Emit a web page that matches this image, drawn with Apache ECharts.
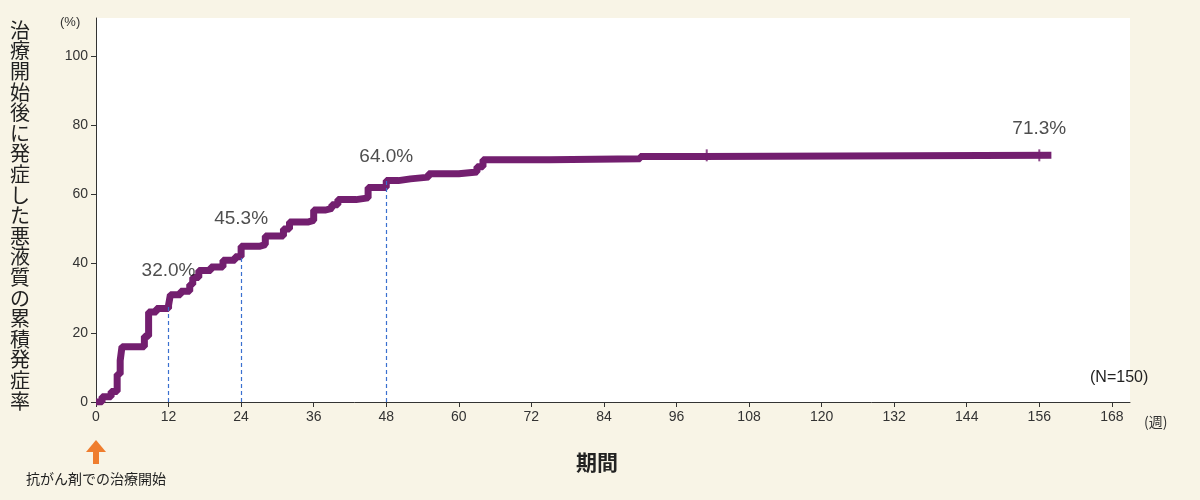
<!DOCTYPE html>
<html>
<head>
<meta charset="utf-8">
<script src="https://cdn.jsdelivr.net/npm/echarts@6/dist/echarts.min.js"></script>
<style>
  html, body { margin: 0; padding: 0; background: #f8f4e6; }
  #chart { width: 1200px; height: 500px; }
</style>
</head>
<body>
<div id="chart"></div>
<script>
// 週, 累積発症率(%)
var weeks = [0, 1, 2.5, 3.5, 4, 4.3, 7, 8, 8.7, 10, 12, 12.3, 14, 15.5, 16, 17, 19, 21, 23, 24, 27, 28, 31, 32, 35, 36, 38, 39, 40, 43, 45, 48, 50, 52, 55, 60, 63, 64, 75, 90, 100, 158];
var rates = [0, 1.5, 3, 8, 12, 16, 16, 19, 26, 27, 28, 31, 32, 34, 36, 38, 39, 41, 42, 45, 45.5, 48, 50, 52, 52.5, 55.5, 56, 57, 58.5, 59, 62, 64, 64.5, 65, 66, 66.5, 68, 70, 70.3, 71, 71.3, 71.3];
var censorWeeks = [101, 156];
var markWeeks = [12, 24, 48];
var markRates = [28, 42, 64];
var labelWeeks = [12, 24, 48, 156];
var labelRates = [32.0, 45.3, 64.0, 71.3];
var labelY = [38, 53, 71, 79];

var myChart = echarts.init(document.getElementById("chart"));
var purple = "#731f6f";

var dashLines = markWeeks.map(function (w, i) {
  return [{ coord: [w, 0] }, { coord: [w, markRates[i]] }];
});

var yTitle = "治療開始後に発症した悪液質の累積発症率".split("").join("\n");

var options = {
  backgroundColor: "#f8f4e6",
  animation: false,
  grid: { left: 96, right: 70, top: 18, bottom: 98, backgroundColor: "#ffffff", show: true, borderWidth: 0 },
  xAxis: {
    type: "value",
    min: 0,
    max: 171,
    interval: 12,
    axisLine: { show: true, lineStyle: { color: "#333" } },
    axisTick: { show: true, length: 5, lineStyle: { color: "#333" } },
    axisLabel: { color: "#333", fontSize: 14, showMaxLabel: false },
    splitLine: { show: false },
  },
  yAxis: {
    type: "value",
    min: 0,
    max: 111,
    interval: 20,
    axisLine: { show: true, lineStyle: { color: "#333" } },
    axisTick: { show: true, length: 5, lineStyle: { color: "#333" } },
    axisLabel: { color: "#333", fontSize: 14, showMaxLabel: false },
    splitLine: { show: false },
  },
  series: [
    {
      type: "line",
      step: "end",
      data: weeks.map(function (w, i) { return [w, rates[i]]; }),
      symbol: "none",
      lineStyle: { color: purple, width: 7 },
      markLine: {
        silent: true,
        symbol: "none",
        label: { show: false },
        lineStyle: { color: "#3a70d0", type: [4, 3], width: 1.2 },
        data: dashLines,
      },
      z: 3,
    },
    {
      type: "scatter",
      data: censorWeeks.map(function (w) { return [w, 71.3]; }),
      symbol: "rect",
      symbolSize: [2, 12],
      itemStyle: { color: purple },
      z: 4,
    },
    {
      type: "scatter",
      data: labelWeeks.map(function (w, i) { return [w, labelY[i]]; }),
      symbolSize: 0,
      label: {
        show: true,
        position: "inside",
        fontSize: 19,
        color: "#222",
        formatter: function (p) { return labelRates[p.dataIndex].toFixed(1) + "%"; },
      },
      z: 5,
    },
  ],
  graphic: [
    { type: "text", left: 10, top: 20, style: { text: yTitle, fontSize: 20, lineHeight: 20.6, fill: "#222", fontFamily: "Noto Sans CJK JP" } },
    { type: "text", left: 60, top: 16, style: { text: "(%)", fontSize: 13, fill: "#333" } },
    { type: "text", left: 1144, top: 415, style: { text: "(週)", fontSize: 14, fill: "#333", fontFamily: "Noto Sans CJK JP" } },
    { type: "text", left: 1090, top: 370, style: { text: "(N=150)", fontSize: 16, fill: "#222" } },
    { type: "text", left: 576, top: 452, style: { text: "期間", fontSize: 21, fontWeight: "bold", fill: "#222", fontFamily: "Noto Sans CJK JP" } },
    { type: "polygon", shape: { points: [[86, 452], [106, 452], [96, 440]] }, style: { fill: "#ef7d2e" } },
    { type: "rect", shape: { x: 93, y: 451, width: 6, height: 13 }, style: { fill: "#ef7d2e" } },
    { type: "text", left: 26, top: 472, style: { text: "抗がん剤での治療開始", fontSize: 14, fill: "#222", fontFamily: "Noto Sans CJK JP" } },
  ],
};
myChart.setOption(options);
</script>
</body>
</html>
